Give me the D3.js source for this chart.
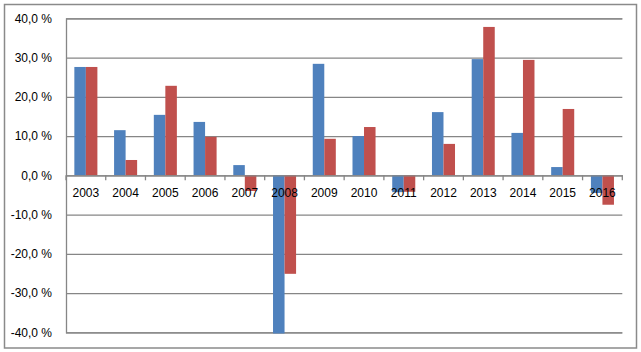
<!DOCTYPE html>
<html>
<head>
<meta charset="utf-8">
<script src="https://cdn.jsdelivr.net/npm/d3@7"></script>
<style>
  body { margin: 0; background: #fff; }
  svg { display: block; font-family: "Liberation Sans", Arial, sans-serif; }
</style>
</head>
<body>
<div id="container"></div>
<script>
/* CONSTANTS AND GLOBALS */
const width = 641;
const height = 352;
const margin = { top: 18.3, right: 18.7, bottom: 19.7, left: 66 };

/* DATA */
const years = ["2003", "2004", "2005", "2006", "2007", "2008", "2009", "2010", "2011", "2012", "2013", "2014", "2015", "2016"];
const seriesBlue = [27.6, 11.5, 15.4, 13.6, 2.6, -40.3, 28.4, 10.0, -4.3, 16.1, 29.6, 10.8, 2.1, -4.5];
const seriesRed = [27.6, 3.9, 22.8, 9.8, -4.0, -25.1, 9.3, 12.3, -4.2, 8.0, 37.8, 29.4, 16.9, -7.5];
const yTicks = [-40, -30, -20, -10, 0, 10, 20, 30, 40];

const series = [
  { key: "blue", values: seriesBlue, color: "#4F81BD" },
  { key: "red", values: seriesRed, color: "#C0504D" }
];

// excel style: comma decimal, plain hyphen minus
const fmt = d3.formatLocale({ decimal: ",", thousands: " ", grouping: [3], currency: ["", ""], minus: "-" }).format(".1f");

/* SCALES */
const xScale = d3.scaleBand()
  .domain(years)
  .range([margin.left, width - margin.right])
  .paddingInner(0.42)
  .paddingOuter(0.21);

const xSub = d3.scaleBand()
  .domain(series.map(s => s.key))
  .range([0, xScale.bandwidth()]);

const yScale = d3.scaleLinear()
  .domain([-40, 40])
  .range([height - margin.bottom, margin.top]);

/* HTML ELEMENTS */
const svg = d3.select("#container")
  .append("svg")
  .attr("width", width)
  .attr("height", height);

// frame
svg.append("rect")
  .attr("x", 4.5)
  .attr("y", 4.5)
  .attr("width", 632)
  .attr("height", 343.5)
  .attr("fill", "#fff")
  .attr("stroke", "#8a8a8a")
  .attr("stroke-width", 1.5);

// gridlines + y labels
const yAxis = d3.axisLeft(yScale)
  .tickValues(yTicks)
  .tickSize(-(width - margin.left - margin.right))
  .tickPadding(14)
  .tickFormat(d => fmt(d) + " %");

const gy = svg.append("g")
  .attr("transform", `translate(${margin.left},0)`)
  .call(yAxis);
gy.select(".domain").attr("stroke", "#868686").attr("stroke-width", 1.3);
gy.selectAll(".tick line").attr("stroke", "#868686").attr("stroke-width", 1.3);
gy.selectAll(".tick text")
  .attr("font-size", 12)
  .attr("fill", "#000");

// bars
svg.append("g")
  .selectAll("g")
  .data(series)
  .join("g")
  .attr("fill", d => d.color)
  .selectAll("rect")
  .data(d => d.values.map((v, i) => ({ key: d.key, year: years[i], value: v })))
  .join("rect")
  .attr("x", d => xScale(d.year) + xSub(d.key))
  .attr("width", xSub.bandwidth())
  .attr("y", d => yScale(Math.max(0, d.value)))
  .attr("height", d => Math.abs(yScale(d.value) - yScale(0)));

// category axis at zero
const x_axis = d3.axisBottom(xScale).tickSize(0).tickPadding(13);
const gx = svg.append("g")
  .attr("transform", `translate(0,${yScale(0)})`)
  .call(x_axis);
gx.select(".domain").attr("stroke", "#868686").attr("stroke-width", 1.3);
gx.selectAll(".tick text").attr("font-size", 12).attr("fill", "#000");

// boundary tick marks
const step = xScale.step();
const bounds = d3.range(years.length + 1).map(i => margin.left + i * step);
gx.selectAll(".bound")
  .data(bounds)
  .join("line")
  .attr("class", "bound")
  .attr("x1", d => d)
  .attr("x2", d => d)
  .attr("y1", 0)
  .attr("y2", 5)
  .attr("stroke", "#868686")
  .attr("stroke-width", 1.3);
</script>
</body>
</html>
